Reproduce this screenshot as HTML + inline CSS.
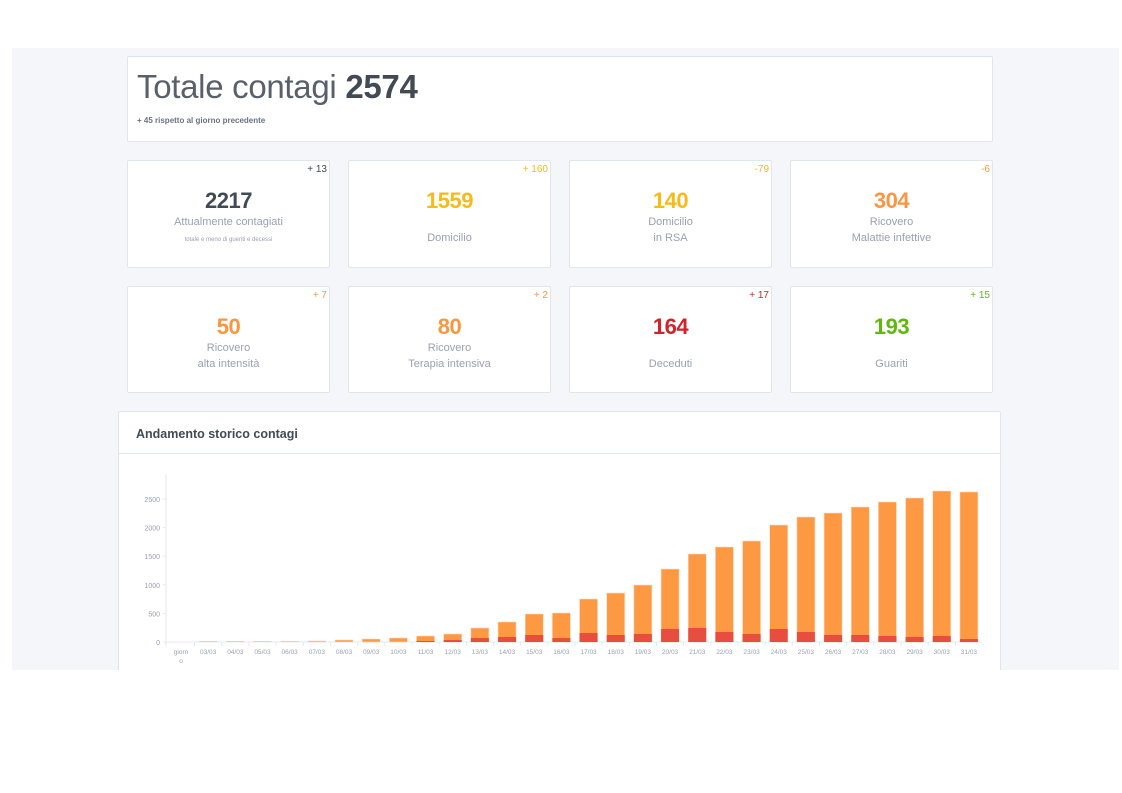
<!DOCTYPE html>
<html><head><meta charset="utf-8"><style>
*{box-sizing:border-box;margin:0;padding:0}
body{width:1122px;height:793px;background:#fff;font-family:"Liberation Sans",sans-serif;position:relative;overflow:hidden}
#bg{position:absolute;left:12px;top:48px;width:1107px;height:622px;background:#f4f6fa;overflow:hidden}
.card{position:absolute;background:#fff;border:1px solid #e1e5ec;border-radius:2px}
.num{position:absolute;left:0;right:0;top:27px;text-align:center;font-size:22px;font-weight:bold;letter-spacing:-0.5px}
.lbl{position:absolute;left:0;right:0;top:53px;text-align:center;font-size:11px;color:#9aa0b0;line-height:16px}
.d{position:absolute;right:2px;top:3px;font-size:10px}
</style></head><body>
<div id="bg">
 <div class="card" style="left:115px;top:8px;width:866px;height:86px">
  <div style="position:absolute;left:9px;top:11px;font-size:33px;color:#5a606b;letter-spacing:-0.3px">Totale contagi <b style="color:#434a54">2574</b></div>
  <div style="position:absolute;left:9px;top:59px;font-size:8px;color:#6b7280;font-weight:bold">+ 45 rispetto al giorno precedente</div>
 </div>

 <div class="card" style="left:115px;top:112px;width:203px;height:108px"><span class="d" style="color:#434a54">+ 13</span><div class="num" style="color:#434a54">2217</div><div class="lbl">Attualmente contagiati<br><span style="font-size:6px">totale e meno di gueriti e decessi</span></div></div>
 <div class="card" style="left:336px;top:112px;width:203px;height:108px"><span class="d" style="color:#f6bb1a">+ 160</span><div class="num" style="color:#f6bb1a">1559</div><div class="lbl" style="top:69px">Domicilio</div></div>
 <div class="card" style="left:557px;top:112px;width:203px;height:108px"><span class="d" style="color:#f6bb1a">-79</span><div class="num" style="color:#f6bb1a">140</div><div class="lbl">Domicilio<br>in RSA</div></div>
 <div class="card" style="left:778px;top:112px;width:203px;height:108px"><span class="d" style="color:#fb9640">-6</span><div class="num" style="color:#fb9640">304</div><div class="lbl">Ricovero<br>Malattie infettive</div></div>

 <div class="card" style="left:115px;top:238px;width:203px;height:107px"><span class="d" style="color:#fb9640">+ 7</span><div class="num" style="color:#fb9640">50</div><div class="lbl">Ricovero<br>alta intensità</div></div>
 <div class="card" style="left:336px;top:238px;width:203px;height:107px"><span class="d" style="color:#fb9640">+ 2</span><div class="num" style="color:#fb9640">80</div><div class="lbl">Ricovero<br>Terapia intensiva</div></div>
 <div class="card" style="left:557px;top:238px;width:203px;height:107px"><span class="d" style="color:#d4212a">+ 17</span><div class="num" style="color:#d4212a">164</div><div class="lbl" style="top:69px">Deceduti</div></div>
 <div class="card" style="left:778px;top:238px;width:203px;height:107px"><span class="d" style="color:#5fb80e">+ 15</span><div class="num" style="color:#5fb80e">193</div><div class="lbl" style="top:69px">Guariti</div></div>

 <div class="card" style="left:106px;top:363px;width:883px;height:300px">
  <div style="height:42px;border-bottom:1px solid #e1e5ec;padding:15px 0 0 17px;font-size:12.5px;color:#434a54;font-weight:bold">Andamento storico contagi</div>
 </div>
</div>
<svg id="ch" width="1122" height="793" style="position:absolute;left:0;top:0" font-family="Liberation Sans, sans-serif"></svg>
<script>
var s=document.getElementById('ch'),h='';
h+='<line x1="166" y1="474" x2="166" y2="646" stroke="#e6e9f0"/><line x1="163" y1="642" x2="982" y2="642" stroke="#e6e9f0"/>';
[0,500,1000,1500,2000,2500].forEach(function(v){var y=642-v*0.0572;h+='<text x="160" y="'+(y+3)+'" font-size="7" fill="#9aa0b0" text-anchor="end">'+v+'</text><line x1="163" x2="166" y1="'+y+'" y2="'+y+'" stroke="#e6e9f0"/>';});
var ot=[642,641.5,641.5,641.5,641.5,641,640,639,638,636,634,628,622,614,613,599,593,585,569,554,547,541,525,517,513,507,502,498,491,492];
var rt=[642,642,642,642,642,642,642,642,642,641,640,638,637,635,638,633,635,634,629,628,632,634,629,632,635,635,636,637,636,639];
for(var i=0;i<30;i++){var cx=181+i*27.17;
 if(i>0){h+='<line x1="'+(cx-13.6)+'" x2="'+(cx-13.6)+'" y1="642" y2="646" stroke="#e6e9f0"/>';}
 var lab=i==0?'giorn':((i+2<10?'0':'')+(i+2)+'/03');
 h+='<text x="'+cx+'" y="654" font-size="6.5" fill="#9aa0b0" text-anchor="middle">'+lab+'</text>';
 if(i==0)h+='<text x="'+cx+'" y="663" font-size="6.5" fill="#9aa0b0" text-anchor="middle">o</text>';
 if(i>0&&i<5){h+='<rect x="'+(cx-9)+'" y="641" width="18" height="1" fill="#f6c9c4"/>';continue;}
 if(i==0)continue;
 h+='<rect x="'+(cx-9)+'" y="'+ot[i]+'" width="18" height="'+(642-ot[i])+'" fill="#fd9843" stroke="#ffd9bd" stroke-width="0.6"/>';
 if(rt[i]<642)h+='<rect x="'+(cx-9)+'" y="'+rt[i]+'" width="18" height="'+(642-rt[i])+'" fill="#e84e40"/>';
}
s.innerHTML=h;
</script>
</body></html>
